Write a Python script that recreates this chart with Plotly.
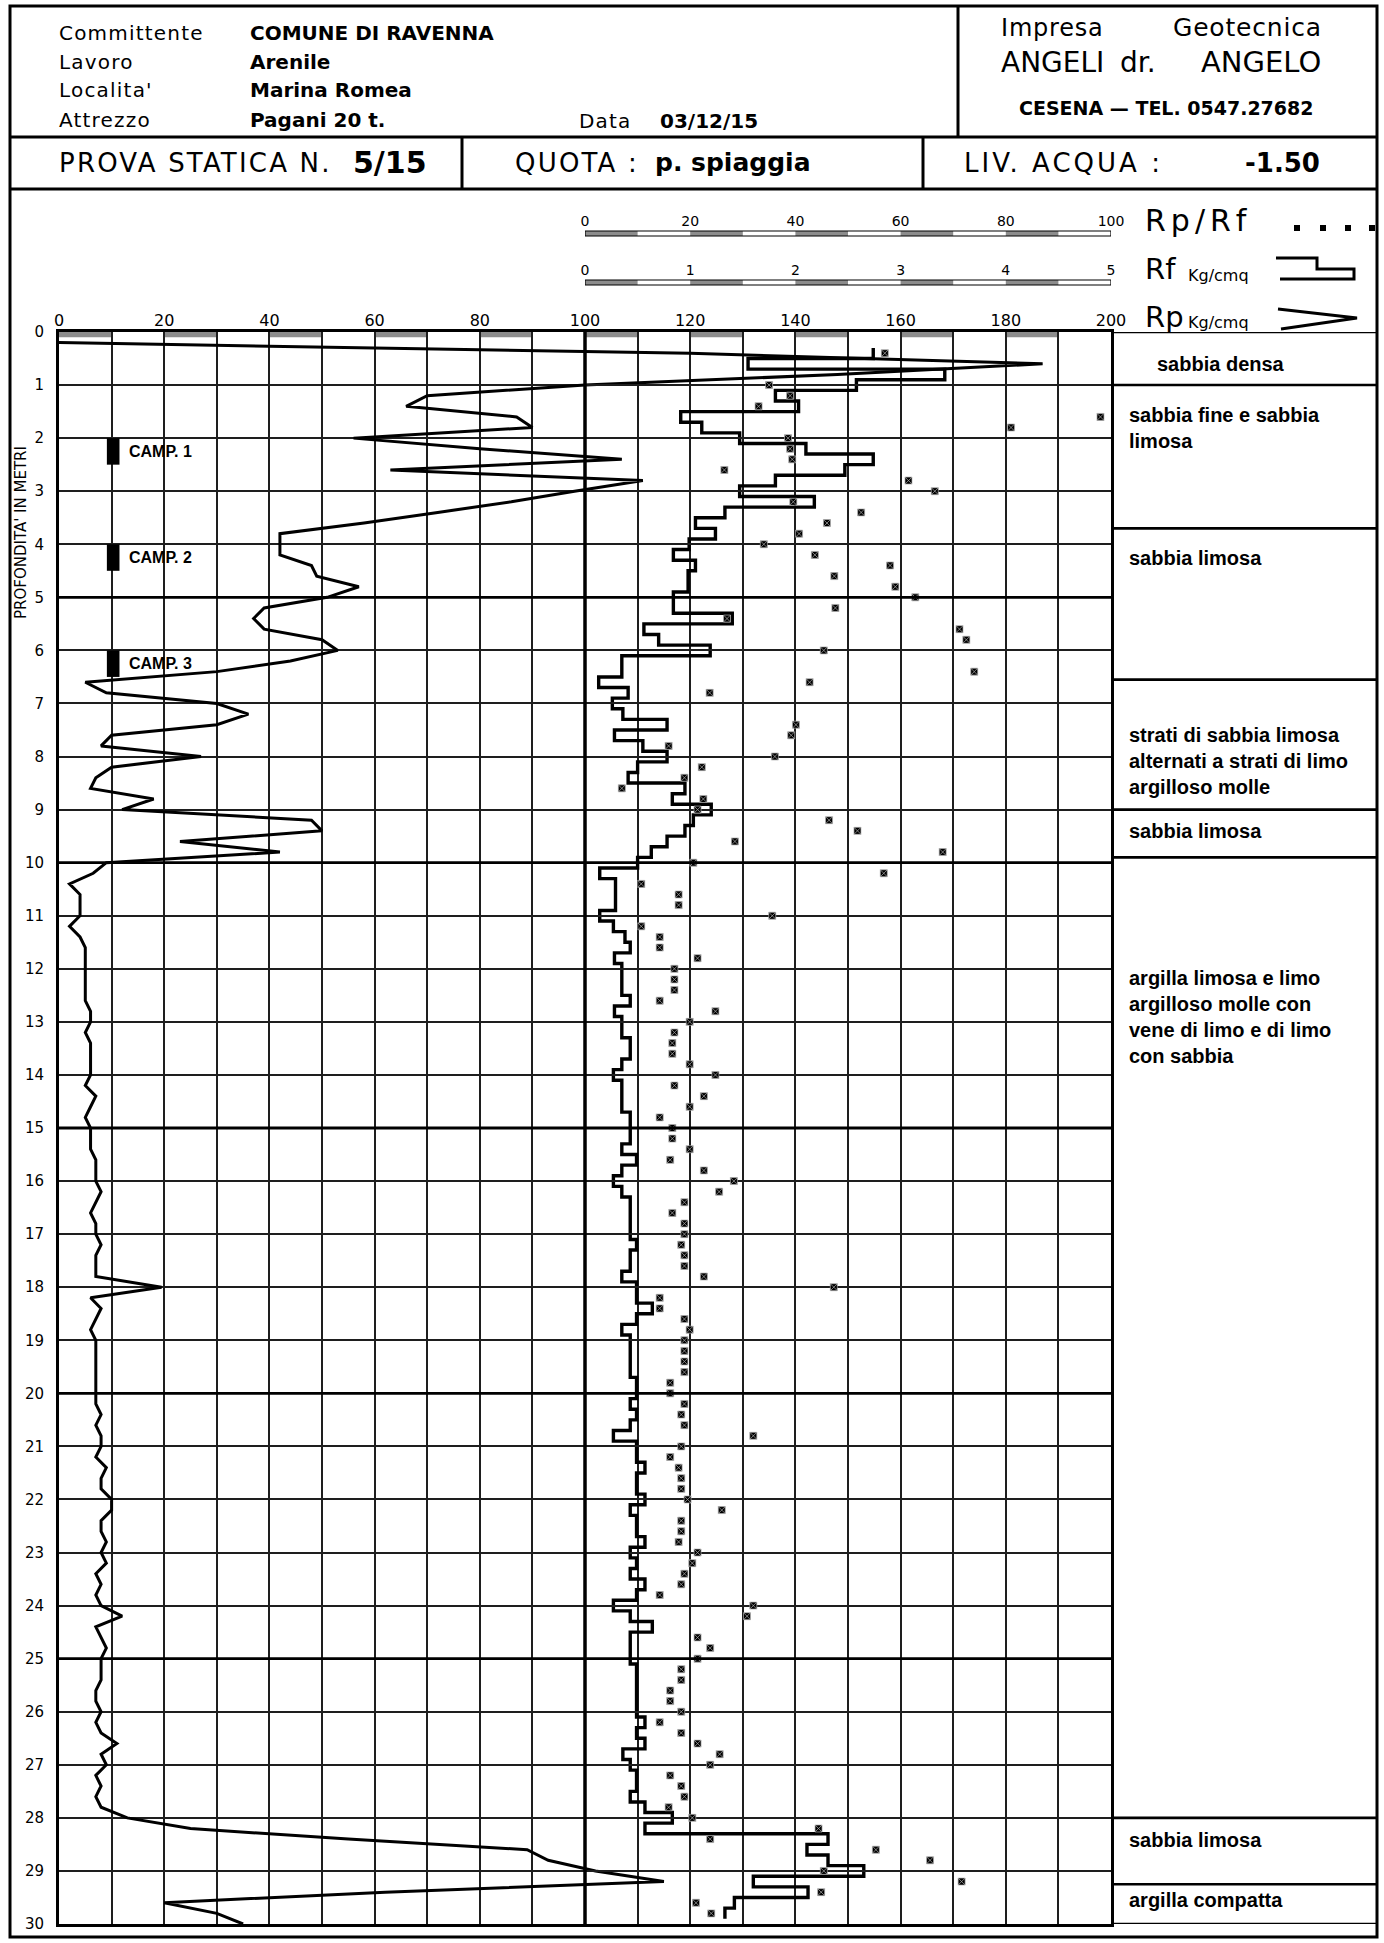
import plotly.graph_objects as go

# ---------------------------------------------------------------- readings
# Cone resistance Rp (kg/cmq), one reading every 20 cm (0.2 m ... 30.0 m)
rp = [
    0, 120, 187, 148, 100,      # 0.2 - 1.0
    70, 66, 87, 90, 56,         # 1.2 - 2.0
    80, 107, 63, 111, 98,       # 2.2 - 3.0
    86, 72, 58, 42, 42,         # 3.2 - 4.0
    42, 48, 49, 57, 51,         # 4.2 - 5.0
    39, 37, 39, 50, 53,         # 5.2 - 6.0
    44, 30, 5, 9, 30,           # 6.2 - 7.0
    36, 30, 10, 8, 27,          # 7.2 - 8.0
    10, 7, 6, 18, 12,           # 8.2 - 9.0
    48, 50, 23, 42, 9,          # 9.2 - 10.0
    6.5, 2, 4, 4, 4,            # 10.2 - 11.0
    2, 4, 5, 5, 5,              # 11.2 - 12.0
    5, 5, 5, 6, 6,              # 12.2 - 13.0
    5, 6, 6, 6, 6,              # 13.2 - 14.0
    5, 7, 6, 5, 6,              # 14.2 - 15.0
    6, 6, 7, 7, 7,              # 15.2 - 16.0
    8, 7, 6, 7, 7,              # 16.2 - 17.0
    8, 7, 7, 7, 19.5,           # 17.2 - 18.0
    6, 8, 7, 6, 7,              # 18.2 - 19.0
    7, 7, 7, 7, 7,              # 19.2 - 20.0
    7, 8, 7, 8, 8,              # 20.2 - 21.0
    7, 9, 8, 8, 10,             # 21.2 - 22.0
    10, 8, 8, 9, 8,             # 22.2 - 23.0
    9, 7, 8, 7, 8,              # 23.2 - 24.0
    12, 7, 8, 9, 8,             # 24.2 - 25.0
    8, 8, 7, 7, 8,              # 25.2 - 26.0
    7, 8, 11, 8, 9,             # 26.2 - 27.0
    7, 8, 7, 8, 13,             # 27.2 - 28.0
    25, 55, 89, 93, 102,        # 28.2 - 29.0
    115, 62, 20, 30, 35,        # 29.2 - 30.0
]
rp_depth = [round(0.2 * (i + 1), 1) for i in range(len(rp))]

# Lateral friction Rf (kg/cmq), 20 cm readings centred on 0.4 ... 29.8 m
rf = [
    2.74, 1.55, 3.42, 2.58,             # 0.4 - 1.0
    1.81, 2.03, 0.91, 1.11, 1.47,       # 1.2 - 2.0
    2.10, 2.74, 2.47, 1.81, 1.47,       # 2.2 - 3.0
    2.18, 1.33, 1.05, 1.24, 0.99,       # 3.2 - 4.0
    0.84, 1.05, 0.98, 0.98, 0.84,       # 4.2 - 5.0
    0.84, 1.40, 0.56, 0.70, 1.19,       # 5.2 - 6.0
    0.35, 0.35, 0.13, 0.41, 0.26,       # 6.2 - 7.0
    0.36, 0.78, 0.28, 0.55, 0.78,       # 7.2 - 8.0
    0.50, 0.41, 0.95, 0.83, 1.20,       # 8.2 - 9.0
    1.03, 0.95, 0.78, 0.63, 0.50,       # 9.2 - 10.0
    0.14, 0.29, 0.29, 0.29, 0.14,       # 10.2 - 11.0
    0.27, 0.38, 0.43, 0.28, 0.35,       # 11.2 - 12.0
    0.35, 0.35, 0.43, 0.28, 0.35,       # 12.2 - 13.0
    0.35, 0.43, 0.43, 0.35, 0.27,       # 13.2 - 14.0
    0.35, 0.35, 0.35, 0.43, 0.43,       # 14.2 - 15.0
    0.43, 0.35, 0.49, 0.35, 0.27,       # 15.2 - 16.0
    0.35, 0.43, 0.43, 0.43, 0.43,       # 16.2 - 17.0
    0.49, 0.43, 0.43, 0.35, 0.49,       # 17.2 - 18.0
    0.49, 0.64, 0.49, 0.35, 0.43,       # 18.2 - 19.0
    0.43, 0.43, 0.43, 0.49, 0.49,       # 19.2 - 20.0
    0.43, 0.49, 0.43, 0.27, 0.49,       # 20.2 - 21.0
    0.49, 0.57, 0.49, 0.49, 0.57,       # 21.2 - 22.0
    0.43, 0.49, 0.49, 0.57, 0.43,       # 22.2 - 23.0
    0.49, 0.43, 0.57, 0.49, 0.27,       # 23.2 - 24.0
    0.43, 0.64, 0.43, 0.43, 0.43,       # 24.2 - 25.0
    0.49, 0.49, 0.49, 0.49, 0.49,       # 25.2 - 26.0
    0.57, 0.49, 0.57, 0.36, 0.43,       # 26.2 - 27.0
    0.49, 0.49, 0.43, 0.57, 0.83,       # 27.2 - 28.0
    0.57, 2.31, 2.11, 2.31, 2.65,       # 28.2 - 29.0
    1.60, 2.12, 1.42, 1.33,             # 29.2 - 29.8
]
rf_depth = [round(0.4 + 0.2 * i, 1) for i in range(len(rf))]

# Rp/Rf ratio
ratio_depth = [
    0.4, 0.6, 1.0, 1.2, 1.4, 1.6, 1.8, 2.0, 2.2, 2.4, 2.6, 2.8, 3.0, 3.2, 3.4,
    3.6, 3.8, 4.0, 4.2, 4.4, 4.6, 4.8, 5.0, 5.2, 5.4, 5.6, 5.8, 6.0, 6.2, 6.4,
    6.6, 6.8, 7.0, 7.2, 7.4, 7.6, 7.8, 8.0, 8.2, 8.4, 8.6, 8.8, 9.0, 9.2, 9.4,
    9.6, 9.8, 10.0, 10.2, 10.4, 10.6, 10.8, 11.0, 11.2, 11.4, 11.6, 11.8, 12.0,
    12.2, 12.4, 12.6, 12.8, 13.0, 13.2, 13.4, 13.6, 13.8, 14.0, 14.2, 14.4,
    14.6, 14.8, 15.0, 15.2, 15.4, 15.6, 15.8, 16.0, 16.2, 16.4, 16.6, 16.8,
    17.0, 17.2, 17.4, 17.6, 17.8, 18.0, 18.2, 18.4, 18.6, 18.8, 19.0, 19.2,
    19.4, 19.6, 19.8, 20.0, 20.2, 20.4, 20.6, 20.8, 21.0, 21.2, 21.4, 21.6,
    21.8, 22.0, 22.2, 22.4, 22.6, 22.8, 23.0, 23.2, 23.4, 23.6, 23.8, 24.0,
    24.2, 24.6, 24.8, 25.0, 25.2, 25.4, 25.6, 25.8, 26.0, 26.2, 26.4, 26.6,
    26.8, 27.0, 27.2, 27.4, 27.6, 27.8, 28.0, 28.2, 28.4, 28.6, 28.8, 29.0,
    29.2, 29.4, 29.6, 29.8,
]
ratio = [
    57, 102, 35, 39, 33, 98, 81, 38.6, 39, 39.4, 26.5, 61.5, 66.5, 39.6, 52.5,
    46, 40.7, 34, 43.7, 58, 47.4, 59, 62.8, 47.6, 27, 71.2, 72.5, 45.4, 102, 74,
    42.7, 23.7, 102, 102, 40.1, 39.2, 15.9, 36.1, 22.2, 18.9, 7, 22.5, 21.4, 46.4, 51.8,
    28.5, 68, 20.6, 56.8, 10.7, 17.8, 17.8, 35.6, 10.7, 14.2, 14.2, 21.4, 17,
    17, 17, 14.2, 24.8, 19.9, 17, 16.6, 16.6, 19.9, 24.8, 17, 22.6,
    19.9, 14.2, 16.6, 16.6, 19.9, 16.2, 22.6, 28.3, 25.5, 18.9, 16.6, 18.9,
    18.9, 18.3, 18.9, 18.9, 22.6, 47.3, 14.2, 14.2, 18.9, 19.9, 18.9, 18.9,
    18.9, 18.9, 16.2, 16.2, 18.9, 18.3, 18.9, 32, 18.3, 16.2, 17.8, 18.3,
    18.3, 19.5, 26, 18.3, 18.3, 17.8, 21.4, 20.4, 18.9, 18.3, 14.2, 32,
    30.8, 21.4, 23.8, 21.4, 18.3, 18.3, 16.2, 16.2, 18.3, 14.2, 18.3, 21.4,
    25.6, 23.8, 16.2, 18.3, 18.9, 15.9, 20.4, 44.4, 23.8, 55.3, 65.6, 45.4,
    71.6, 44.9, 21.1, 24,
]

rp_ticks = list(range(0, 201, 20))
rf_ticks = [0, 1, 2, 3, 4, 5]
ratio_ticks = [0, 20, 40, 60, 80, 100]
depth_ticks = list(range(0, 31))

# undisturbed samples
sample_names = ["CAMP. 1", "CAMP. 2", "CAMP. 3"]
sample_top = [2.0, 4.0, 6.0]
sample_bottom = [2.5, 4.5, 6.5]

# stratigraphy
layer_bounds = [0.0, 1.0, 3.7, 6.55, 9.0, 9.9, 28.0, 29.25, 30.0]
layer_names = [
    "sabbia densa",
    "sabbia fine e sabbia<br>limosa",
    "sabbia limosa",
    "strati di sabbia limosa<br>alternati a strati di limo<br>argilloso molle",
    "sabbia limosa",
    "argilla limosa e limo<br>argilloso molle con<br>vene di limo e di limo<br>con sabbia",
    "sabbia limosa",
    "argilla compatta",
]
layer_label_depth = [0.6, 1.8, 4.25, 8.08, 9.4, 12.9, 28.41, 29.54]

# sheet header
committente = "COMUNE DI RAVENNA"
lavoro = "Arenile"
localita = "Marina Romea"
attrezzo = "Pagani 20 t."
data_prova = "03/12/15"
prova_n = "5/15"
quota = "p. spiaggia"
liv_acqua = "-1.50"

# ---------------------------------------------------------------- geometry
W, H = 1384, 1943
M_L, M_R, M_T, M_B = 59, 273, 180, 19
PLOT_W = W - M_L - M_R
PAPER_H = H - M_T - M_B
ROW_ZERO = 332          # pixel row of depth 0

TECH = "DejaVu Sans"
SANS = "Liberation Sans"
GRAY = "#8c8c8c"
GRID = "#1e1e1e"


def px(x):
    return (x - M_L) / PLOT_W


def py(y):
    return (H - M_B - y) / PAPER_H


fig = go.Figure()

# Rp: continuous line on the 0-200 scale
fig.add_trace(go.Scatter(
    x=rp, y=rp_depth, xaxis="x", yaxis="y", mode="lines",
    line=dict(color="black", width=3), hoverinfo="skip"))

# Rf: stepped profile on its own 0-5 scale
step_x, step_y = [], []
for d, v in zip(rf_depth, rf):
    step_x += [v, v]
    step_y += [round(d - 0.1, 2), round(d + 0.1, 2)]
fig.add_trace(go.Scatter(
    x=step_x, y=step_y, xaxis="x2", yaxis="y", mode="lines",
    line=dict(color="black", width=3.4), hoverinfo="skip"))

# Rp/Rf: markers on the 0-100 scale
fig.add_trace(go.Scatter(
    x=ratio, y=ratio_depth, xaxis="x3", yaxis="y", mode="markers",
    marker=dict(symbol="square-x", size=7, color="black",
                line=dict(color="#b0b0b0", width=0.7)),
    cliponaxis=False, hoverinfo="skip"))

shapes = []
annotations = []


def pline(x0, y0, x1, y1, w=3):
    shapes.append(dict(type="line", xref="paper", yref="paper",
                       x0=px(x0), y0=py(y0), x1=px(x1), y1=py(y1),
                       line=dict(color="black", width=w)))


def text(t, x, y, size, family=TECH, bold=False, anchor="left", spacing=None):
    if bold:
        t = f"<b>{t}</b>"
    if spacing:
        t = f'<span style="letter-spacing:{spacing}px">{t}</span>'
    annotations.append(dict(
        text=t, x=px(x), y=py(y),
        xref="paper", yref="paper", xanchor=anchor, yanchor="middle",
        showarrow=False, font=dict(family=family, size=size, color="black")))


# sheet frame and header boxes
shapes.append(dict(type="rect", xref="paper", yref="paper",
                   x0=px(10), x1=px(1377), y0=py(1937), y1=py(6),
                   line=dict(color="black", width=3)))
pline(10, 137, 1377, 137)
pline(10, 189, 1377, 189)
pline(958, 6, 958, 137)
pline(462, 137, 462, 189)
pline(923, 137, 923, 189)

for i, lab in enumerate(["Committente", "Lavoro", "Localita'", "Attrezzo"]):
    text(lab, 57, [33, 62, 90, 120][i], 20, spacing=1.2)
for i, val in enumerate([committente, lavoro, localita, attrezzo]):
    text(val, 248, [33, 62, 90, 120][i], 20, bold=True)
text("Data", 577, 121, 20, spacing=1.2)
text(data_prova, 658, 121, 20, bold=True)

text("Impresa", 999, 28, 24, spacing=0.8)
text("Geotecnica", 1324, 28, 25, anchor="right", spacing=0.8)
text("ANGELI", 999, 62, 28)
text("dr.", 1138, 62, 28, anchor="center")
text("ANGELO", 1323, 62, 29, anchor="right")
text("CESENA \u2014 TEL. 0547.27682", 1166, 108, 19, bold=True, anchor="center")

text("PROVA STATICA N.", 57, 163, 26, spacing=2.2)
text(prova_n, 351, 163, 30, bold=True)
text("QUOTA :", 513, 163, 26, spacing=2.2)
text(quota, 653, 163, 25, bold=True)
text("LIV. ACQUA :", 962, 163, 26, spacing=3)
text(liv_acqua, 1243, 163, 26, bold=True)

# legend at the top right
text("Rp/Rf", 1143, 221, 30, spacing=5)
text("Rf", 1143, 269, 29)
text("Kg/cmq", 1186, 275, 16)
text("Rp", 1143, 317, 29)
text("Kg/cmq", 1186, 322, 16)
for mx in [1297, 1323, 1348, 1372]:
    shapes.append(dict(type="rect", xref="paper", yref="paper",
                       x0=px(mx - 3), x1=px(mx + 3), y0=py(231), y1=py(225),
                       fillcolor="black", line=dict(width=0)))


def ppath(points):
    return "M " + " L ".join(f"{px(a):.5f},{py(b):.5f}" for a, b in points)


shapes.append(dict(type="path", xref="paper", yref="paper",
                   path=ppath([(1276, 258), (1317, 258), (1317, 269),
                               (1354, 269), (1354, 279), (1280, 279)]),
                   line=dict(color="black", width=3)))
shapes.append(dict(type="path", xref="paper", yref="paper",
                   path=ppath([(1278, 309), (1357, 318), (1281, 329)]),
                   line=dict(color="black", width=3)))


# scale bars above the chart
def scale_bar(axis, hi, seg, row):
    n = int(round(hi / seg))
    for i in range(0, n, 2):
        shapes.append(dict(type="rect", xref=axis, yref="paper",
                           x0=i * seg, x1=(i + 1) * seg, y0=py(row + 5), y1=py(row),
                           fillcolor=GRAY, line=dict(width=0)))
    shapes.append(dict(type="rect", xref=axis, yref="paper",
                       x0=0, x1=hi, y0=py(row + 5), y1=py(row),
                       line=dict(color="black", width=1.2)))


scale_bar("x3", 100, 10, 231)
scale_bar("x2", 5, 0.5, 280)

# shaded band along the top of the chart
for k in range(0, 200, 20):
    shapes.append(dict(type="rect", xref="x", yref="y", x0=k, x1=k + 10,
                       y0=0, y1=0.1, fillcolor=GRAY, line=dict(width=0),
                       layer="below"))

# heavier reference lines
shapes.append(dict(type="line", xref="x", yref="y", x0=100, x1=100, y0=0, y1=30,
                   line=dict(color="black", width=3.5)))
for d in [5, 10, 15, 20, 25]:
    shapes.append(dict(type="line", xref="x", yref="y", x0=0, x1=200, y0=d, y1=d,
                       line=dict(color="black", width=2.8)))

# samples
for name, top, bot in zip(sample_names, sample_top, sample_bottom):
    shapes.append(dict(type="rect", xref="x", yref="y", x0=9.1, x1=11.5,
                       y0=top, y1=bot, fillcolor="black", line=dict(width=0)))
    annotations.append(dict(text=f"<b>{name}</b>", x=13, y=(top + bot) / 2,
                            xref="x", yref="y", xanchor="left", yanchor="middle",
                            showarrow=False,
                            font=dict(family=SANS, size=16, color="black")))

# stratigraphic column
for b in layer_bounds:
    shapes.append(dict(type="line", xref="paper", yref="y", x0=1, x1=px(1377),
                       y0=b, y1=b, line=dict(color="black", width=2.6)))
for i, (name, d) in enumerate(zip(layer_names, layer_label_depth)):
    annotations.append(dict(text=f"<b>{name}</b>", x=px(1155 if i == 0 else 1127),
                            y=d, xref="paper", yref="y", xanchor="left",
                            yanchor="middle", align="left", showarrow=False,
                            font=dict(family=SANS, size=20, color="black")))

# depth caption
annotations.append(dict(text="PROFONDITA' IN METRI", x=px(21), y=py(533),
                        xref="paper", yref="paper", textangle=-90,
                        showarrow=False, xanchor="center", yanchor="middle",
                        font=dict(family=TECH, size=15, color="black")))

fig.update_layout(
    width=W, height=H, autosize=False, template="none",
    margin=dict(l=M_L, r=M_R, t=M_T, b=M_B, pad=0),
    paper_bgcolor="white", plot_bgcolor="rgba(0,0,0,0)", showlegend=False,
    font=dict(family=TECH, color="black"),
    xaxis=dict(
        domain=[0, 1], range=[0, 200], side="top", anchor="y",
        tickmode="array", tickvals=list(range(0, 201, 10)),
        ticktext=[str(v) if v in rp_ticks else "" for v in range(0, 201, 10)],
        showgrid=True, gridcolor=GRID, gridwidth=1.7,
        showline=True, linecolor="black", linewidth=3, mirror=True,
        zeroline=False, ticks="", ticklabelstandoff=-3,
        tickfont=dict(family=TECH, size=16), fixedrange=True),
    yaxis=dict(
        domain=[0, py(ROW_ZERO)], range=[30, 0], anchor="x",
        tickmode="array", tickvals=depth_ticks,
        showgrid=True, gridcolor=GRID, gridwidth=1.5,
        showline=True, linecolor="black", linewidth=3, mirror=True,
        zeroline=False, ticks="", ticklabelstandoff=9,
        tickfont=dict(family=TECH, size=15), fixedrange=True),
    xaxis2=dict(
        domain=[0.5, 1], range=[0, 5], anchor="free", position=py(280),
        side="top", tickmode="array", tickvals=rf_ticks,
        showgrid=False, showline=False, zeroline=False, ticks="",
        ticklabelstandoff=2, tickfont=dict(family=TECH, size=14), fixedrange=True),
    xaxis3=dict(
        domain=[0.5, 1], range=[0, 100], anchor="free", position=py(231),
        side="top", tickmode="array", tickvals=ratio_ticks,
        showgrid=False, showline=False, zeroline=False, ticks="",
        ticklabelstandoff=2, tickfont=dict(family=TECH, size=14), fixedrange=True),
    shapes=shapes,
    annotations=annotations,
)

fig.write_html("out.html", config={"displayModeBar": False})
